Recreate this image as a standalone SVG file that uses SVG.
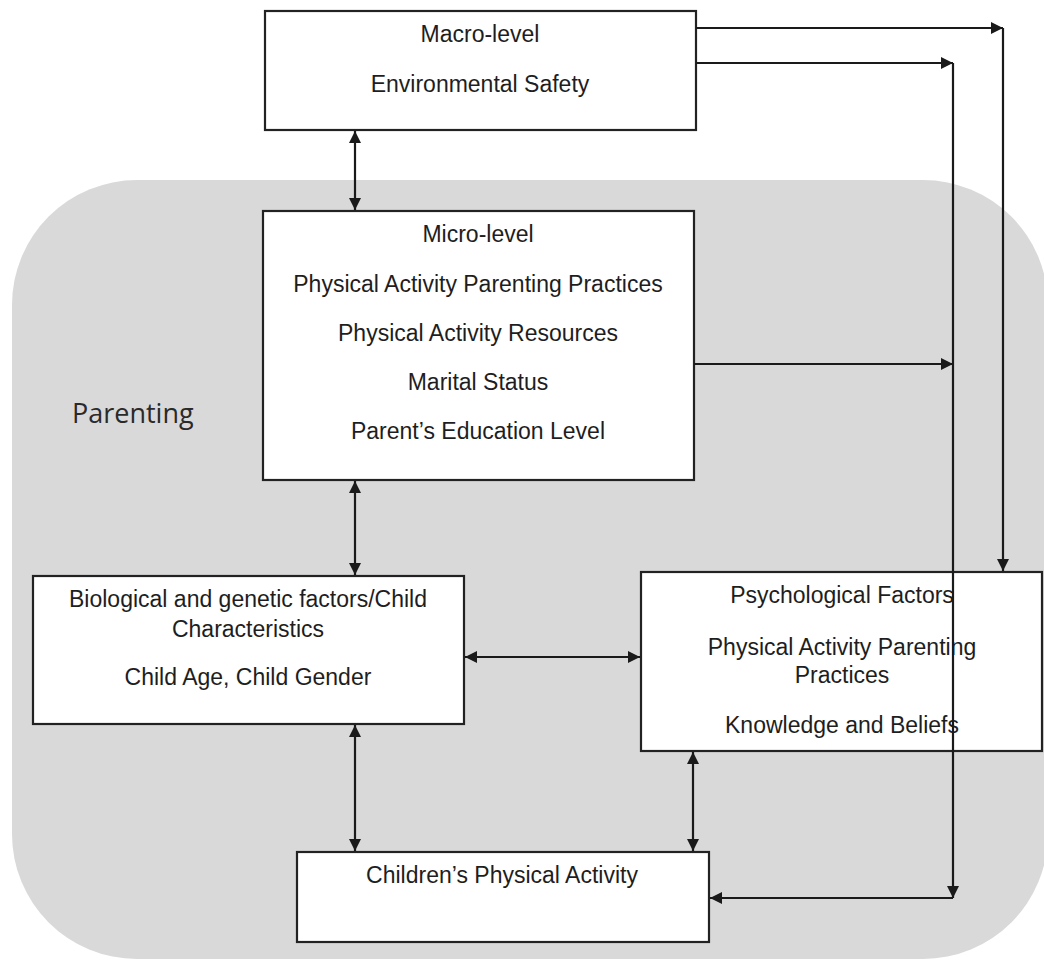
<svg xmlns="http://www.w3.org/2000/svg" width="1044" height="960" viewBox="0 0 1044 960">
<defs>
<style>
.box{fill:#fff;stroke:#222;stroke-width:2.2}
.t{font-family:"Liberation Sans",Arial,sans-serif;font-size:23px;fill:#1e1e1e;text-anchor:middle}
.c{fill:none;stroke:#1a1a1a;stroke-width:2.2}
.lbl{font-family:"Open Sans","Noto Sans",sans-serif;font-size:27px;fill:#2a2a2a}
</style>
<marker id="ah" viewBox="0 0 12 12" markerWidth="12" markerHeight="12" markerUnits="userSpaceOnUse" refX="12" refY="6" orient="auto-start-reverse">
<path d="M0,0 L12,6 L0,12 z" fill="#1a1a1a"/>
</marker>
</defs>
<rect width="1044" height="960" fill="#fff"/>
<g id="parenting">
<rect x="12" y="180" width="1036" height="779" rx="125" ry="125" fill="#d9d9d9"/>
<text class="lbl" x="72" y="423">Parenting</text>
</g>
<g id="macro">
<rect class="box" x="265" y="11" width="431" height="119"/>
<text class="t" x="480" y="42">Macro-level</text>
<text class="t" x="480" y="92">Environmental Safety</text>
</g>
<g id="micro">
<rect class="box" x="263" y="211" width="431" height="269"/>
<text class="t" x="478" y="242">Micro-level</text>
<text class="t" x="478" y="292">Physical Activity Parenting Practices</text>
<text class="t" x="478" y="341">Physical Activity Resources</text>
<text class="t" x="478" y="390">Marital Status</text>
<text class="t" x="478" y="439">Parent’s Education Level</text>
</g>
<g id="bio">
<rect class="box" x="33" y="576" width="431" height="148"/>
<text class="t" x="248" y="607">Biological and genetic factors/Child</text>
<text class="t" x="248" y="637">Characteristics</text>
<text class="t" x="248" y="685">Child Age, Child Gender</text>
</g>
<g id="psych">
<rect class="box" x="641" y="572" width="401" height="179"/>
<text class="t" x="842" y="603">Psychological Factors</text>
<text class="t" x="842" y="655">Physical Activity Parenting</text>
<text class="t" x="842" y="683">Practices</text>
<text class="t" x="842" y="733">Knowledge and Beliefs</text>
</g>
<g id="children">
<rect class="box" x="297" y="852" width="412" height="90"/>
<text class="t" x="502" y="883">Children’s Physical Activity</text>
</g>
<g id="connectors">
<line class="c" x1="355" y1="131" x2="355" y2="210" marker-start="url(#ah)" marker-end="url(#ah)"/>
<line class="c" x1="355" y1="481" x2="355" y2="575" marker-start="url(#ah)" marker-end="url(#ah)"/>
<line class="c" x1="465" y1="657" x2="640" y2="657" marker-start="url(#ah)" marker-end="url(#ah)"/>
<line class="c" x1="355" y1="725" x2="355" y2="851" marker-start="url(#ah)" marker-end="url(#ah)"/>
<line class="c" x1="693" y1="752" x2="693" y2="851" marker-start="url(#ah)" marker-end="url(#ah)"/>
<line class="c" x1="696" y1="28" x2="1003" y2="28" marker-end="url(#ah)"/>
<line class="c" x1="1003" y1="28" x2="1003" y2="571" marker-end="url(#ah)"/>
<line class="c" x1="696" y1="63" x2="953" y2="63" marker-end="url(#ah)"/>
<line class="c" x1="694" y1="364" x2="953" y2="364" marker-end="url(#ah)"/>
<line class="c" x1="953" y1="63" x2="953" y2="898" marker-end="url(#ah)"/>
<line class="c" x1="953" y1="898" x2="710" y2="898" marker-end="url(#ah)"/>
</g>
</svg>
